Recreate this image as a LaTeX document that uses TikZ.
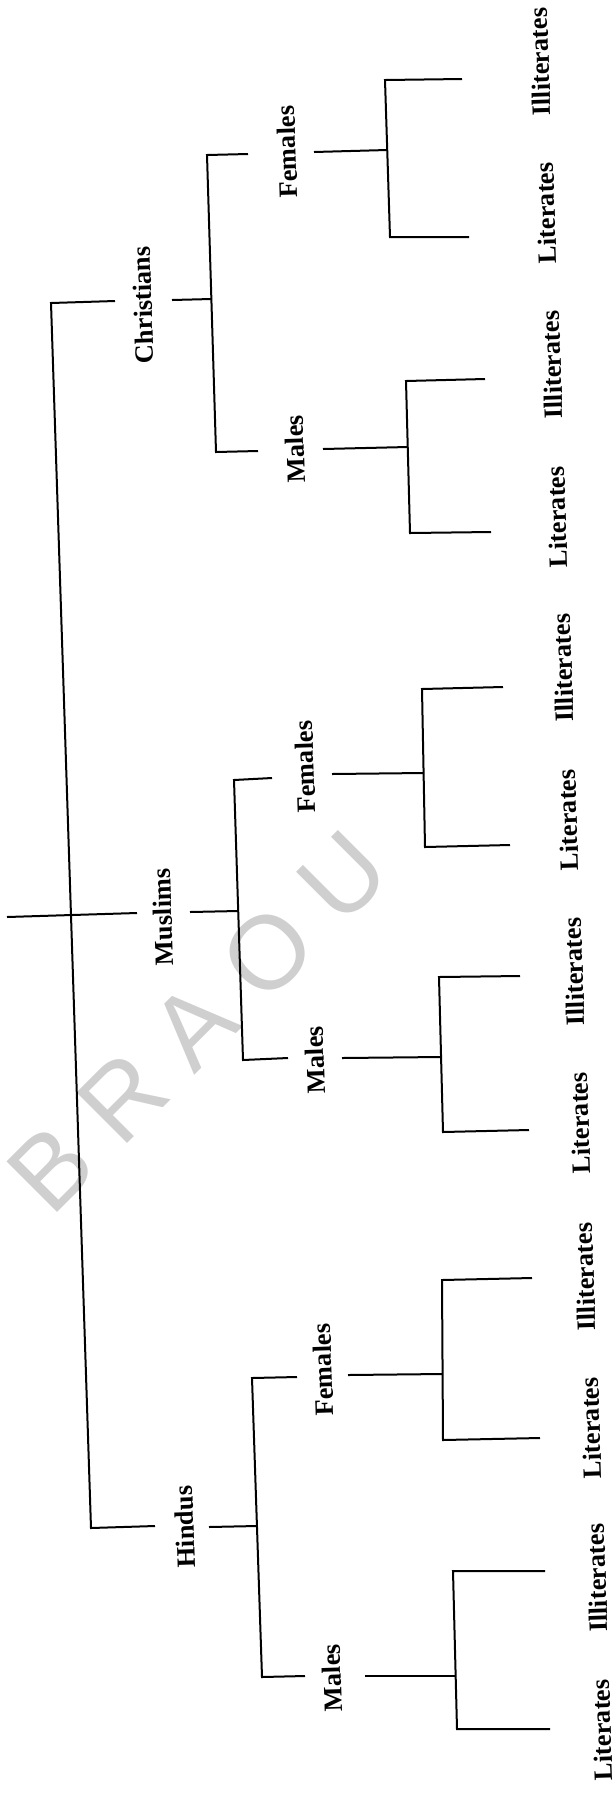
\documentclass[tikz,border=0pt]{standalone}
\usepackage{fontspec}
\setmainfont{Liberation Serif}
\newfontfamily\markfont{Liberation Sans}
\begin{document}
\begin{tikzpicture}[x=0.5pt,y=-0.5pt,
  lbl/.style={font=\bfseries\fontsize{13.2}{14}\selectfont, inner sep=0pt, rotate=91.9, anchor=center},
  link/.style={line width=1pt, line join=miter}]
\useasboundingbox (0,0) rectangle (612,1795);
\fill[white] (0,0) rectangle (612,1795);

% faint watermark behind the tree
\node[font=\markfont\fontsize{52}{52}\selectfont, text=black!19, rotate=45, inner sep=0pt] (mark) at (198,1022) {B R A O U};

% ---------- labels ----------
\node[lbl] (chr) at (143,305) {Christians};
\node[lbl] (mus) at (163,917) {Muslims};
\node[lbl] (hin) at (185,1527) {Hindus};

\node[lbl] (cF) at (287,152) {Females};
\node[lbl] (cM) at (295,449) {Males};
\node[lbl] (mF) at (305,767) {Females};
\node[lbl] (mM) at (315,1060) {Males};
\node[lbl] (hF) at (323,1370) {Females};
\node[lbl] (hM) at (332,1678) {Males};

\node[lbl] (cFi) at (540,62)   {Illiterates};
\node[lbl] (cFl) at (546,213)  {Literates};
\node[lbl] (cMi) at (552,365)  {Illiterates};
\node[lbl] (cMl) at (557,517)  {Literates};
\node[lbl] (mFi) at (563,668)  {Illiterates};
\node[lbl] (mFl) at (568,820)  {Literates};
\node[lbl] (mMi) at (574,972)  {Illiterates};
\node[lbl] (mMl) at (580,1123) {Literates};
\node[lbl] (hFi) at (585,1277) {Illiterates};
\node[lbl] (hFl) at (591,1428) {Literates};
\node[lbl] (hMi) at (597,1578) {Illiterates};
\node[lbl] (hMl) at (602,1730) {Literates};

% ---------- root ----------
\coordinate (r-in)  at (7,917);
\coordinate (r-top) at (51,303);
\coordinate (r-bot) at (91,1528);
\coordinate (chr-l) at (115,301);
\coordinate (mus-l) at (137,913);
\coordinate (hin-l) at (155,1526);
\draw[link] (r-in) -- (mus-l);
\draw[link] (chr-l) -- (r-top) -- (r-bot) -- (hin-l);

% ---------- Christians ----------
\coordinate (chr-r) at (172,300);
\coordinate (chr-j) at (211.4,299);
\coordinate (chr-t) at (207,155);
\coordinate (chr-b) at (216,452);
\coordinate (cF-l)  at (248,154);
\coordinate (cM-l)  at (258,451);
\draw[link] (chr-r) -- (chr-j);
\draw[link] (cF-l) -- (chr-t) -- (chr-b) -- (cM-l);

\coordinate (cF-r) at (314,152);
\coordinate (cF-j) at (387.2,150);
\coordinate (cF-t) at (385,80);
\coordinate (cF-b) at (390,237);
\coordinate (cFi-l) at (462,79);
\coordinate (cFl-l) at (469,237);
\draw[link] (cF-r) -- (cF-j);
\draw[link] (cFi-l) -- (cF-t) -- (cF-b) -- (cFl-l);

\coordinate (cM-r) at (323,449);
\coordinate (cM-j) at (407.7,447);
\coordinate (cM-t) at (406,381);
\coordinate (cM-b) at (410,533);
\coordinate (cMi-l) at (485,379);
\coordinate (cMl-l) at (491,532);
\draw[link] (cM-r) -- (cM-j);
\draw[link] (cMi-l) -- (cM-t) -- (cM-b) -- (cMl-l);

% ---------- Muslims ----------
\coordinate (mus-r) at (190,912);
\coordinate (mus-j) at (238.3,911);
\coordinate (mus-t) at (234,780);
\coordinate (mus-b) at (243,1060);
\coordinate (mF-l)  at (272,778);
\coordinate (mM-l)  at (288,1058);
\draw[link] (mus-r) -- (mus-j);
\draw[link] (mF-l) -- (mus-t) -- (mus-b) -- (mM-l);

\coordinate (mF-r) at (332,774);
\coordinate (mF-j) at (423.6,773);
\coordinate (mF-t) at (422,689);
\coordinate (mF-b) at (425,847);
\coordinate (mFi-l) at (503,687);
\coordinate (mFl-l) at (510,845);
\draw[link] (mF-r) -- (mF-j);
\draw[link] (mFi-l) -- (mF-t) -- (mF-b) -- (mFl-l);

\coordinate (mM-r) at (342,1058);
\coordinate (mM-j) at (441,1057);
\coordinate (mM-t) at (439,977);
\coordinate (mM-b) at (443,1132);
\coordinate (mMi-l) at (520,976);
\coordinate (mMl-l) at (529,1130);
\draw[link] (mM-r) -- (mM-j);
\draw[link] (mMi-l) -- (mM-t) -- (mM-b) -- (mMl-l);

% ---------- Hindus ----------
\coordinate (hin-r) at (209,1527);
\coordinate (hin-j) at (257,1526);
\coordinate (hin-t) at (252,1378);
\coordinate (hin-b) at (262,1677);
\coordinate (hF-l)  at (297,1377);
\coordinate (hM-l)  at (305,1676);
\draw[link] (hin-r) -- (hin-j);
\draw[link] (hF-l) -- (hin-t) -- (hin-b) -- (hM-l);

\coordinate (hF-r) at (348,1375);
\coordinate (hF-j) at (442.6,1374);
\coordinate (hF-t) at (442,1280);
\coordinate (hF-b) at (443,1440);
\coordinate (hFi-l) at (532,1278);
\coordinate (hFl-l) at (540,1438);
\draw[link] (hF-r) -- (hF-j);
\draw[link] (hFi-l) -- (hF-t) -- (hF-b) -- (hFl-l);

\coordinate (hM-r) at (365,1676);
\coordinate (hM-j) at (455.7,1676);
\coordinate (hM-t) at (453,1571);
\coordinate (hM-b) at (457,1729);
\coordinate (hMi-l) at (545,1571);
\coordinate (hMl-l) at (550,1729);
\draw[link] (hM-r) -- (hM-j);
\draw[link] (hMi-l) -- (hM-t) -- (hM-b) -- (hMl-l);
\end{tikzpicture}
\end{document}
